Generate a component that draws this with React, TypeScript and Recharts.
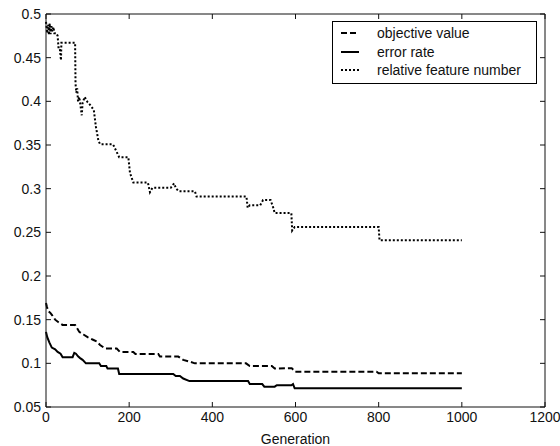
import { LineChart, Line, XAxis, YAxis } from "recharts";

// generation / value pairs
const OBJ_GEN = [0, 2, 5, 10, 15, 22, 30, 40, 70, 80, 90, 100, 113, 122, 130, 142, 170, 178, 210, 215, 270, 274, 318, 330, 345, 358, 481, 490, 543, 550, 591, 599, 795, 800, 1000];
const OBJ_VAL = [0.169, 0.165, 0.16, 0.158, 0.155, 0.15, 0.147, 0.144, 0.144, 0.136, 0.133, 0.13, 0.127, 0.125, 0.121, 0.117, 0.117, 0.113, 0.113, 0.1107, 0.1107, 0.1077, 0.1077, 0.104, 0.102, 0.1, 0.1, 0.097, 0.097, 0.094, 0.0945, 0.0904, 0.0904, 0.0886, 0.0886];

const ERR_GEN = [0, 3, 8, 14, 22, 28, 35, 40, 64, 68, 72, 77, 82, 88, 96, 128, 132, 145, 148, 173, 176, 306, 312, 322, 330, 345, 486, 490, 520, 525, 550, 555, 590, 594, 598, 1000];
const ERR_VAL = [0.136, 0.13, 0.124, 0.118, 0.116, 0.113, 0.111, 0.107, 0.107, 0.112, 0.111, 0.108, 0.106, 0.104, 0.1, 0.1, 0.097, 0.097, 0.094, 0.094, 0.0878, 0.0878, 0.0855, 0.0855, 0.0826, 0.0797, 0.0797, 0.0763, 0.0763, 0.0733, 0.0733, 0.0749, 0.0749, 0.0762, 0.0714, 0.0714];

const FEAT_GEN = [0, 3, 5, 7, 9, 11, 13, 15, 18, 20, 25, 28, 30, 33, 36, 37, 70, 71, 73, 75, 77, 80, 83, 86, 88, 93, 100, 106, 115, 120, 126, 130, 160, 163, 170, 176, 198, 202, 210, 245, 250, 256, 300, 308, 313, 320, 358, 362, 482, 485, 490, 515, 522, 540, 546, 550, 590, 592, 598, 800, 802, 1000];
const FEAT_VAL = [0.491, 0.478, 0.488, 0.476, 0.489, 0.477, 0.486, 0.48, 0.485, 0.478, 0.478, 0.475, 0.462, 0.462, 0.447, 0.467, 0.467, 0.42, 0.41, 0.415, 0.4, 0.405, 0.395, 0.384, 0.398, 0.405, 0.399, 0.396, 0.39, 0.371, 0.355, 0.351, 0.351, 0.349, 0.342, 0.336, 0.336, 0.318, 0.307, 0.307, 0.296, 0.301, 0.301, 0.306, 0.3, 0.297, 0.297, 0.291, 0.291, 0.278, 0.281, 0.281, 0.287, 0.287, 0.279, 0.272, 0.272, 0.252, 0.256, 0.256, 0.241, 0.241];

const X_TICKS = [0, 200, 400, 600, 800, 1000, 1200];
const Y_TICKS = [0.05, 0.1, 0.15, 0.2, 0.25, 0.3, 0.35, 0.4, 0.45, 0.5];

const SERIES_NAMES = ["objective value", "error rate", "relative feature number"];
const DASHES = ["6 3", undefined, "2 2"];
// the feature curve is bound to the top/right axes (same domains)
const X_IDS = ["bottom", "bottom", "top"];
const Y_IDS = ["left", "left", "right"];

const FONT = "'Liberation Sans', Arial, Helvetica, sans-serif";
const INK = "#111";
const TICK_LEN = 5;

const zip = (gens: number[], vals: number[]) =>
  gens.map((g, i) => ({ g, v: vals[i] }));

// MATLAB-style ticks: short marks pointing into the plot, label outside.
// tickSize/tickMargin are 0 so (x, y) is the point on the axis line.
// eslint-disable-next-line @typescript-eslint/no-explicit-any
function makeTick(side: "bottom" | "top" | "left" | "right") {
  // eslint-disable-next-line @typescript-eslint/no-explicit-any
  return function Tick(props: any) {
    const { x = 0, y = 0, payload } = props;
    const v = payload?.value;
    if (side === "bottom")
      return (
        <g>
          <line x1={x} y1={y} x2={x} y2={y - TICK_LEN} stroke={INK} />
          <text x={x} y={y + 15} textAnchor="middle" fill={INK} fontSize={14} fontFamily={FONT}>
            {v}
          </text>
        </g>
      );
    if (side === "left")
      return (
        <g>
          <line x1={x} y1={y} x2={x + TICK_LEN} y2={y} stroke={INK} />
          <text x={x - 5} y={y + 5} textAnchor="end" fill={INK} fontSize={14} fontFamily={FONT}>
            {v}
          </text>
        </g>
      );
    if (side === "top")
      return <line x1={x} y1={y} x2={x} y2={y + TICK_LEN} stroke={INK} />;
    return <line x1={x} y1={y} x2={x - TICK_LEN} y2={y} stroke={INK} />;
  };
}

export default function App() {
  const series = [zip(OBJ_GEN, OBJ_VAL), zip(ERR_GEN, ERR_VAL), zip(FEAT_GEN, FEAT_VAL)];

  return (
    <div style={{ position: "absolute", left: 0, top: 0, width: 560, height: 446, background: "#fff", fontFamily: FONT }}>
      <LineChart
        width={560}
        height={446}
        margin={{ top: 8, right: 9, bottom: 0, left: 0 }}
        style={{ fontFamily: FONT }}
      >
        <XAxis
          xAxisId="bottom"
          dataKey="g"
          type="number"
          domain={[0, 1200]}
          ticks={X_TICKS}
          interval={0}
          height={39}
          tickSize={0}
          tickMargin={0}
          tickLine={false}
          tick={makeTick("bottom")}
          axisLine={{ stroke: INK }}
          label={{ value: "Generation", position: "insideBottom", offset: 2, fill: INK, fontSize: 14, fontFamily: FONT }}
        />
        <XAxis
          xAxisId="top"
          orientation="top"
          dataKey="g"
          type="number"
          domain={[0, 1200]}
          ticks={X_TICKS}
          interval={0}
          height={6}
          tickSize={0}
          tickMargin={0}
          tickLine={false}
          tick={makeTick("top")}
          axisLine={{ stroke: INK }}
        />
        <YAxis
          yAxisId="left"
          type="number"
          domain={[0.05, 0.5]}
          ticks={Y_TICKS}
          interval={0}
          width={46}
          tickSize={0}
          tickMargin={0}
          tickLine={false}
          tick={makeTick("left")}
          axisLine={{ stroke: INK }}
        />
        <YAxis
          yAxisId="right"
          orientation="right"
          type="number"
          domain={[0.05, 0.5]}
          ticks={Y_TICKS}
          interval={0}
          width={6}
          tickSize={0}
          tickMargin={0}
          tickLine={false}
          tick={makeTick("right")}
          axisLine={{ stroke: INK }}
        />
        {series.map((d, i) => (
          <Line
            key={SERIES_NAMES[i]}
            data={d}
            dataKey="v"
            xAxisId={X_IDS[i]}
            yAxisId={Y_IDS[i]}
            type="linear"
            stroke="#000"
            strokeWidth={2}
            strokeDasharray={DASHES[i]}
            dot={false}
            activeDot={false}
            isAnimationActive={false}
          />
        ))}
      </LineChart>

      {/* legend box, top right inside the axes */}
      <div
        style={{
          position: "absolute",
          left: 332,
          top: 21,
          width: 203,
          height: 59,
          border: "1px solid #000",
          background: "#fff",
          boxSizing: "content-box",
          paddingTop: 2,
        }}
      >
        {SERIES_NAMES.map((name, i) => (
          <div key={name} style={{ display: "flex", alignItems: "center", height: 18.5, fontSize: 14, color: INK }}>
            <svg width={44} height={10} style={{ flex: "none" }}>
              <line x1={8} y1={5} x2={26} y2={5} stroke="#000" strokeWidth={2} strokeDasharray={DASHES[i]} />
            </svg>
            <span style={{ whiteSpace: "nowrap" }}>{name}</span>
          </div>
        ))}
      </div>
    </div>
  );
}
